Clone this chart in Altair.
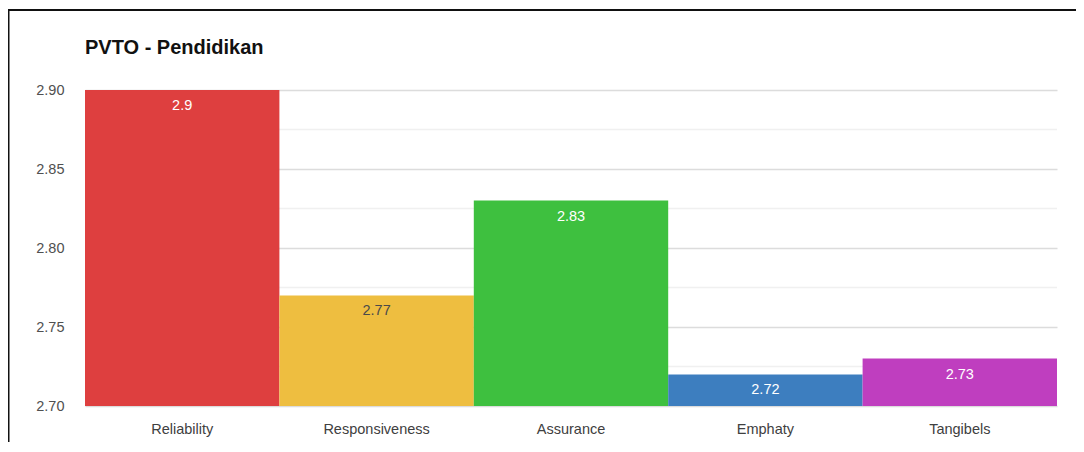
import altair as alt
import pandas as pd

categories = ["Reliability", "Responsiveness", "Assurance", "Emphaty", "Tangibels"]
values = [2.90, 2.77, 2.83, 2.72, 2.73]
labels = ["2.9", "2.77", "2.83", "2.72", "2.73"]
colors = ["#DE3F3F", "#EEBE40", "#3EC03F", "#3D7EBF", "#BF3EBF"]
label_colors = ["#FFFFFF", "#4A4A4A", "#FFFFFF", "#FFFFFF", "#FFFFFF"]
y_major = [2.70, 2.75, 2.80, 2.85, 2.90]
y_minor = [2.725, 2.775, 2.825, 2.875]
y_base = 2.70

df = pd.DataFrame({"cat": categories, "val": values, "lab": labels,
                   "col": colors, "lcol": label_colors})
minor_df = pd.DataFrame({"v": y_minor})

FONT = "Liberation Sans"
yscale = alt.Scale(domain=[2.70, 2.90], zero=False, nice=False)

x = alt.X("cat:N", sort=categories, title=None,
          scale=alt.Scale(paddingInner=0, paddingOuter=0),
          axis=alt.Axis(labelAngle=0, ticks=False, domain=False, grid=False,
                        labelFontSize=14.5, labelColor="#404040",
                        labelPadding=16, labelFont=FONT))
y = alt.Y("val:Q", title=None, scale=yscale,
          axis=alt.Axis(values=y_major, format=".2f", ticks=False, domain=False,
                        labelFontSize=14.5, labelColor="#505050", labelPadding=21,
                        labelFont=FONT, gridColor="#DCDCDC", gridWidth=1.6))

minor = alt.Chart(minor_df).mark_rule(color="#F0F0F0", strokeWidth=1.6).encode(
    y=alt.Y("v:Q", scale=yscale)
)

bars = alt.Chart(df).mark_bar().encode(
    x=x, y=y, y2=alt.datum(y_base), color=alt.Color("col:N", scale=None)
)

text = alt.Chart(df).mark_text(dy=16, fontSize=14.5, font=FONT).encode(
    x=alt.X("cat:N", sort=categories),
    y=alt.Y("val:Q"),
    text="lab:N",
    color=alt.Color("lcol:N", scale=None),
)

title = alt.Chart(pd.DataFrame({"t": ["PVTO - Pendidikan"]})).mark_text(
    align="left", baseline="alphabetic", fontSize=20, fontWeight="bold",
    font=FONT, color="#111111"
).encode(x=alt.value(0), y=alt.value(-36), text="t:N")

border_top = alt.Chart(pd.DataFrame({"a": [0]})).mark_rule(
    color="#111111", strokeWidth=2, clip=False
).encode(x=alt.value(-77), x2=alt.value(995), y=alt.value(-80))

border_left = alt.Chart(pd.DataFrame({"a": [0]})).mark_rule(
    color="#111111", strokeWidth=2, clip=False
).encode(x=alt.value(-76.5), y=alt.value(-81), y2=alt.value(360))

chart = alt.layer(minor, bars, text, title, border_top, border_left).properties(
    width=972,
    height=316,
    background="white",
    autosize=alt.AutoSizeParams(type="none"),
    padding={"left": 77, "top": 82, "right": 19, "bottom": 36},
).configure_view(stroke="transparent", strokeWidth=0)

chart.save("out.html", embed_options={"renderer": "svg", "actions": False})
